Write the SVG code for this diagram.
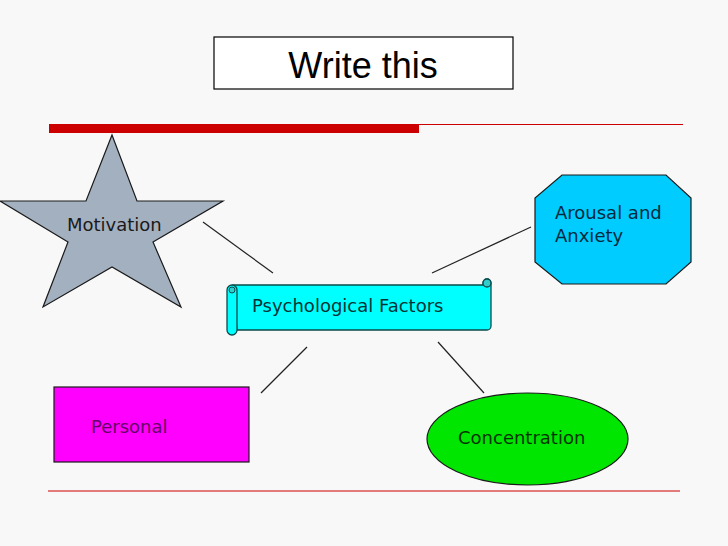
<svg xmlns="http://www.w3.org/2000/svg" width="728" height="546" viewBox="0 0 728 546">
<style>
.lbl{font-family:"DejaVu Sans",Verdana,sans-serif;font-size:18px}
.node{stroke:#1a1a1a;stroke-width:1.2}
.conn line{stroke:#222;stroke-width:1.2}
</style>
<rect width="728" height="546" fill="#f8f8f8"/>
<g id="title">
<rect x="214" y="37" width="299" height="52" fill="#ffffff" stroke="#000" stroke-width="1.2"/>
<text x="363" y="78" text-anchor="middle" font-family="'Liberation Sans',Arial,sans-serif" font-size="36" fill="#000">Write this</text>
</g>
<g id="rules">
<rect x="49" y="124" width="370" height="9" fill="#cc0000"/>
<line x1="419" y1="124.5" x2="683" y2="124.5" stroke="#cc0000" stroke-width="1"/>
<line x1="48" y1="491" x2="680" y2="491" stroke="#cc0000" stroke-width="1"/>
</g>
<g class="conn" id="connectors">
<line x1="203" y1="222" x2="273" y2="273"/>
<line x1="432" y1="273" x2="531" y2="227"/>
<line x1="261" y1="393" x2="307" y2="347"/>
<line x1="438" y1="342" x2="484" y2="393"/>
</g>
<g id="motivation">
<polygon class="node" fill="#a3b0bf" points="112,135 137,201 223,201 153,242 181,307 112,267 43,307 68,242 0,201 86,201"/>
<text class="lbl" x="67" y="231" fill="#1a1a1a">Motivation</text>
</g>
<g id="arousal">
<polygon class="node" fill="#00ccff" points="562,175 666,175 691,198 691,262 666,284 562,284 535,262 535,198"/>
<text class="lbl" fill="#002a40"><tspan x="555" y="219">Arousal and</tspan><tspan x="555" y="242">Anxiety</tspan></text>
</g>
<g id="psych">
<path d="M233,285 H483 V283 A4,4 0 0 1 491,283 V326 A4,4 0 0 1 487,330 H237 Z" fill="#00ffff" stroke="#0a4a4a" stroke-width="1.3"/>
<circle cx="487" cy="283" r="4" fill="#33cccc" stroke="#0a4a4a" stroke-width="1.3"/>
<rect x="227" y="285" width="10" height="50" rx="5" fill="#00ffff" stroke="#0a4a4a" stroke-width="1.3"/>
<circle cx="232" cy="290" r="3" fill="#33cccc" stroke="#0a4a4a" stroke-width="1"/>
<text class="lbl" x="252" y="312" fill="#003535">Psychological Factors</text>
</g>
<g id="personal">
<rect class="node" x="54" y="387" width="195" height="75" fill="#ff00ff"/>
<text class="lbl" x="91" y="433" fill="#660066">Personal</text>
</g>
<g id="concentration">
<ellipse class="node" cx="527.5" cy="439" rx="100.5" ry="46" fill="#00e600"/>
<text class="lbl" x="458" y="444" fill="#003300">Concentration</text>
</g>
</svg>
